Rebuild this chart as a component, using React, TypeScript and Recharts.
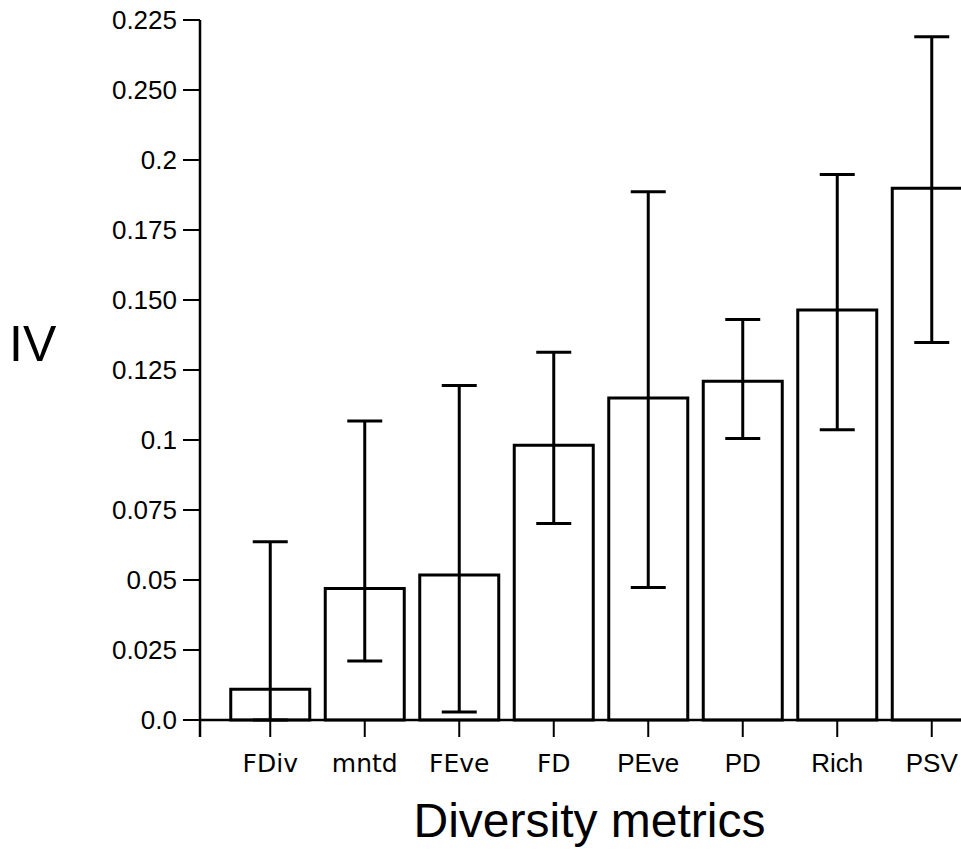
import React from 'react';
import { BarChart, Bar, XAxis, YAxis, ErrorBar } from 'recharts';

const categories = ["FDiv", "mntd", "FEve", "FD", "PEve", "PD", "Rich", "PSV"];
const ivValues = [0.011, 0.047, 0.0518, 0.0981, 0.115, 0.121, 0.1464, 0.1899];
const ivLower = [0.0, 0.0211, 0.0029, 0.0702, 0.0473, 0.1005, 0.1037, 0.1348];
const ivUpper = [0.0637, 0.1068, 0.1195, 0.1313, 0.1887, 0.143, 0.1948, 0.244];
const yTicks = [0, 0.025, 0.05, 0.075, 0.1, 0.125, 0.15, 0.175, 0.2, 0.225, 0.25];
const yTickLabels = ["0.0", "0.025", "0.05", "0.075", "0.1", "0.125", "0.150", "0.175", "0.2", "0.250", "0.225"];
const yAxisTitle = "IV";
const xAxisTitle = "Diversity metrics";

const data = categories.map((name, i) => ({
  name,
  iv: ivValues[i],
  err: [ivValues[i] - ivLower[i], ivUpper[i] - ivValues[i]],
}));

const CHART_W = 990;
const CHART_H = 853;
const YAXIS_W = 192;
const XAXIS_H = 133;
const TICK_SIZE = 17;
const Y_TICK_MARGIN = 6;
const X_TICK_MARGIN = 17;
const SANS = '"Liberation Sans", Arial, Helvetica, sans-serif';
const DEJAVU = '"DejaVu Sans", sans-serif';

const YTick = (props: any) => {
  const { x, y, index } = props;
  const axisX = x + TICK_SIZE + Y_TICK_MARGIN;
  return (
    <g>
      <text x={x} y={y} dy="0.355em" textAnchor="end" fontSize={26} fontFamily={SANS} fill="#000">
        {yTickLabels[index]}
      </text>
      {index === 0 && (
        <line x1={axisX} x2={axisX} y1={y} y2={y + TICK_SIZE} stroke="#000" strokeWidth={2.5} />
      )}
    </g>
  );
};

const XTick = (props: any) => {
  const { x, y, payload, index } = props;
  const dejavu = index < 4;
  return (
    <text
      x={x}
      y={y}
      dy="0.71em"
      textAnchor="middle"
      fontSize={dejavu ? 25 : 26}
      fontFamily={dejavu ? DEJAVU : SANS}
      fill="#000"
    >
      {payload.value}
    </text>
  );
};

const YTitle = (props: any) => {
  const vb = props.viewBox;
  return (
    <text x={vb.x + 1} y={vb.y + vb.height / 2 - 9} fontSize={50} fontFamily={SANS} fill="#000">
      {yAxisTitle}
    </text>
  );
};

const XTitle = (props: any) => {
  const vb = props.viewBox;
  return (
    <text
      x={vb.x + vb.width / 2}
      y={vb.y + vb.height - 16}
      textAnchor="middle"
      fontSize={48}
      fontFamily={SANS}
      fill="#000"
    >
      {xAxisTitle}
    </text>
  );
};

export default function App() {
  return (
    <div style={{ position: 'absolute', left: 0, top: 0, width: 961, height: 853, overflow: 'hidden' }}>
      <BarChart
        width={CHART_W}
        height={CHART_H}
        data={data}
        margin={{ top: 20, right: 11, bottom: 0, left: 8 }}
        barCategoryGap={7.75}
      >
        <XAxis
          dataKey="name"
          height={XAXIS_H}
          padding={{ left: 23, right: 0 }}
          axisLine={{ stroke: '#000', strokeWidth: 2.5 }}
          tickLine={{ stroke: '#000', strokeWidth: 2 }}
          tickSize={TICK_SIZE}
          tickMargin={X_TICK_MARGIN}
          tick={<XTick />}
          interval={0}
          label={<XTitle />}
        />
        <YAxis
          width={YAXIS_W}
          domain={[0, 0.25]}
          ticks={yTicks}
          interval={0}
          axisLine={{ stroke: '#000', strokeWidth: 2.5 }}
          tickLine={{ stroke: '#000', strokeWidth: 2 }}
          tickSize={TICK_SIZE}
          tickMargin={Y_TICK_MARGIN}
          tick={<YTick />}
          label={<YTitle />}
        />
        <Bar dataKey="iv" fill="#fff" stroke="#000" strokeWidth={3} isAnimationActive={false}>
          <ErrorBar dataKey="err" direction="y" width={17.5} stroke="#000" strokeWidth={3} />
        </Bar>
      </BarChart>
    </div>
  );
}
